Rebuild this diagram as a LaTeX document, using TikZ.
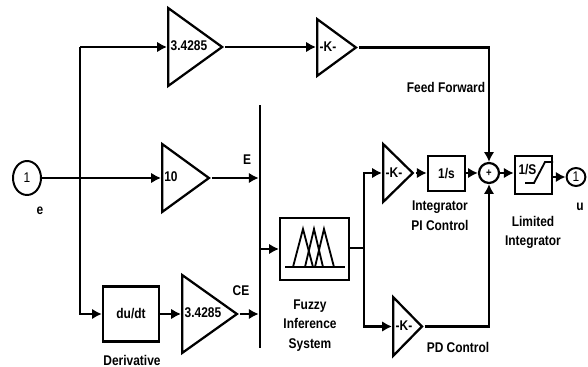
\documentclass[tikz,border=0pt]{standalone}
\usepackage{fontspec}
\setmainfont[FakeStretch=0.85,BoldFont={Liberation Sans Bold}]{Liberation Sans}
\usetikzlibrary{shapes,arrows,positioning,calc,arrows.meta}

\tikzset{
    wire/.style={line width=1.6pt},
    sig/.style={wire, -{Latex[length=7pt,width=7.5pt]}},
    txt/.style={font=\bfseries\fontsize{10}{12}\selectfont, inner sep=0pt, align=center},
    port/.style={draw, line width=1.4pt, ellipse, inner sep=0pt, font=\fontsize{10}{12}\selectfont},
    blockbox/.style={draw, wire, rectangle, inner sep=0pt, txt},
    gainbox/.style={draw, wire, isosceles triangle, isosceles triangle stretches, inner sep=0pt, anchor=lower side, txt}
}

\begin{document}
\begin{tikzpicture}[x=0.025cm,y=-0.025cm]
    \useasboundingbox (0,0) rectangle (588,367);

    % Input port
    \node[port, minimum width=0.7cm, minimum height=0.85cm] (inE) at (27,178) {1};
    \node[txt] (inLabel) at (40,211) {e};

    % Gains
    \node[gainbox, minimum width=1.95cm, minimum height=1.35cm] (gainA) at (167,47) {};
    \node[txt] (gainAText) at (189,46) {3.4285};
    \node[gainbox, minimum width=1.42cm, minimum height=0.97cm] (gainFF) at (316,47.5) {};
    \node[txt] (gainFFText) at (328,47) {-K-};
    \node[gainbox, minimum width=1.7cm, minimum height=1.17cm] (gainE) at (161,178) {};
    \node[txt] (gainEText) at (171,177) {10};
    \node[gainbox, minimum width=1.95cm, minimum height=1.37cm] (gainCE) at (181,314) {};
    \node[txt] (gainCEText) at (203,313) {3.4285};
    \node[gainbox, minimum width=1.45cm, minimum height=0.74cm] (gainPI) at (382,173) {};
    \node[txt] (gainPIText) at (394,173) {-K-};
    \node[gainbox, minimum width=1.47cm, minimum height=0.72cm] (gainPD) at (392,326.5) {};
    \node[txt] (gainPDText) at (404,326) {-K-};

    % Blocks
    \node[blockbox, minimum width=1.4cm, minimum height=1.37cm] (derivBox) at (131,314) {du/dt};
    \node[blockbox, minimum width=1.72cm, minimum height=1.55cm] (fuzzyBox) at (314.5,249) {};
    \node[blockbox, minimum width=0.93cm, minimum height=0.87cm] (intBox) at (446.5,173.5) {1/s};
    \node[draw, wire, circle, minimum size=0.5cm, inner sep=0pt, font=\bfseries\fontsize{8}{10}\selectfont] (sumNode) at (489,173) {+};
    \node[blockbox, minimum width=0.93cm, minimum height=0.95cm] (satBox) at (533.5,175) {};
    \node[txt] (satText) at (527.5,170) {1/S};
    \node[port, minimum width=0.47cm, minimum height=0.45cm] (outU) at (576,177) {1};
    \node[txt] (outLabel) at (580,207) {u};

    % Mux bar
    \node[fill=black, inner sep=0pt, minimum width=1.4pt, minimum height=6.07cm] (muxBar) at (260,226.5) {};

    % Fuzzy and saturation glyphs
    \draw[line width=1.3pt] (285,267) -- (345,267);
    \draw[line width=1.3pt] (293,267) -- (303,229) -- (313,267);
    \draw[line width=1.3pt] (305,267) -- (314,229) -- (323,267);
    \draw[line width=1.3pt] (315,267) -- (324,229) -- (334,267);
    \draw[line width=1.3pt] (525,183) -- (534,183) -- (545,162) -- (satBox.east |- 0,162);

    % Branch points
    \coordinate (branchE) at (80,178);
    \coordinate (branchFuzzy) at (364,248);

    % Signals
    \draw[sig] (inE) -- (gainE.lower side |- branchE);
    \draw[wire] (branchE) -- (80,47) coordinate (branchTop);
    \draw[sig] (branchTop) -- (gainA.lower side);
    \draw[sig] (branchE) |- (derivBox.west);
    \draw[sig] (derivBox.east) -- (gainCE.lower side);
    \draw[sig] (gainA.apex) -- (gainFF.lower side |- gainA.apex);
    \draw[sig] (gainE.apex) -- (muxBar.west |- gainE.apex);
    \draw[sig] (gainCE.apex) -- (muxBar.west |- gainCE.apex);
    \draw[sig] (muxBar.east |- fuzzyBox.west) -- (fuzzyBox.west);
    \draw[wire] (fuzzyBox.east |- branchFuzzy) -- (branchFuzzy);
    \draw[sig] (branchFuzzy) |- (gainPI.lower side);
    \draw[sig] (branchFuzzy) |- (gainPD.lower side);
    \draw[sig] (gainPI.apex) -- (intBox.west |- gainPI.apex);
    \draw[sig] (intBox.east |- sumNode) -- (sumNode.west);
    \draw[sig] (gainFF.apex) -| (sumNode.north);
    \draw[sig] (gainPD.apex) -| (sumNode.south);
    \draw[sig] (sumNode.east) -- (satBox.west |- sumNode.east);
    \draw[sig] (satBox.east |- outU) -- (outU.west);

    % Labels
    \node[txt] (labelFF) at (446,87) {Feed Forward};
    \node[txt] (labelE) at (247,160) {E};
    \node[txt] (labelCE) at (241,291) {CE};
    \node[txt] (labelDeriv) at (132,360) {Derivative};
    \node[txt] (labelPI) at (440,216) {Integrator\\[2pt]PI Control};
    \node[txt] (labelLim) at (533,232.5) {Limited\\[2pt]Integrator};
    \node[txt] (labelPD) at (458,347) {PD Control};
    \node[txt] (labelFuzzy) at (310,325.5) {Fuzzy\\[2pt]Inference\\[2pt]System};
\end{tikzpicture}
\end{document}
